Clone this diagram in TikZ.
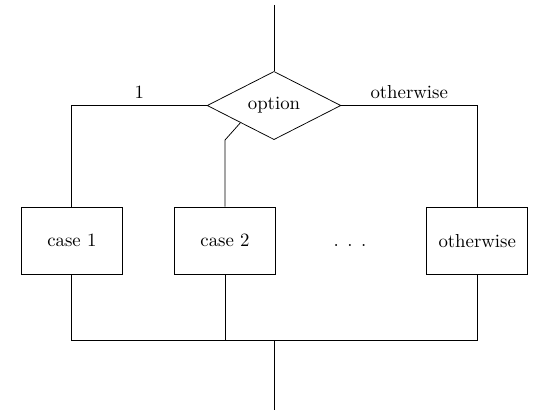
\documentclass[tikz,border=0pt]{standalone}
\usepackage{tikz}
\usetikzlibrary{shapes.geometric, positioning, calc}

\begin{document}
\begin{tikzpicture}
\tikzstyle{box}=[rectangle, draw, minimum width=1.89cm, minimum height=1.26cm]
\tikzstyle{choice}=[diamond, draw, minimum width=2.5cm, minimum height=1.25cm, inner sep=0pt]

\useasboundingbox (-5.124,-5.825) rectangle (5.086,1.973);

\node[choice] (opt) at (0,0) {option};
\node[box] (c1) at (-3.78,-2.53) {case 1};
\node[box, right=0.96cm of c1] (c2) {case 2};
\node[box] (cx) at (3.80,-2.53) {otherwise};
\node[anchor=base] (dots) at (1.42,0 |- c2.base) {.\hspace{4.5pt}.\hspace{4.5pt}.};

\coordinate (top) at (0,1.88);
\coordinate (join) at (0,-4.40);
\coordinate (end) at (0,-5.69);

\draw (top) -- (opt.north);
\draw (opt.west) -| node[pos=0.25, above] {1} (c1.north);
\draw (opt.east) -| node[pos=0.25, above] {otherwise} (cx.north);
\draw (opt.south west) -- (c2.north |- opt.south) -- (c2.north);

\draw (c1.south) |- (join) -| (cx.south);
\draw (c2.south) -- (c2.south |- join);
\draw (join) -- (end);
\end{tikzpicture}
\end{document}
